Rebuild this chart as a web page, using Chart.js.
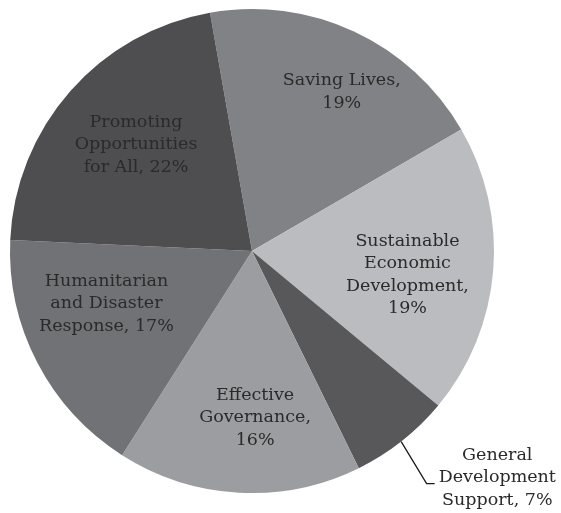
<!DOCTYPE html>
<html lang="en">
<head>
  <meta charset="UTF-8">
  <title>Funding by Objective</title>
  <script src="https://cdn.jsdelivr.net/npm/chart.js"></script>
  <style>
    html, body { margin: 0; padding: 0; background: #fff; }
    #wrap { width: 561px; height: 513px; }
  </style>
</head>
<body>
  <div id="wrap"><canvas id="pie"></canvas></div>

  <script>
    // data, clockwise from the top (slice sizes, labels show rounded %)
    const categories = ['Saving Lives', 'Sustainable Economic Development', 'General Development Support',
      'Effective Governance', 'Humanitarian and Disaster Response', 'Promoting Opportunities for All'];
    const shares = [19.4, 19.4, 6.7, 16.3, 16.7, 21.5];
    const nameLines = [
      ['Saving Lives'],
      ['Sustainable', 'Economic', 'Development'],
      ['General', 'Development', 'Support'],
      ['Effective', 'Governance'],
      ['Humanitarian', 'and Disaster', 'Response'],
      ['Promoting', 'Opportunities', 'for All']
    ];
    const pctOnOwnLine = [true, true, false, true, false, false];
    const sliceColors = ['#818286', '#bbbcbf', '#58585b', '#9c9da0', '#717275', '#4e4e51'];

    // where each label sits: shift from slice mid-angle (deg) and fraction of radius
    const labelPlace = [
      { shift: 4.5, f: 0.755 },
      { shift: 4.0, f: 0.65 },
      { shift: -9.0, f: 1.38, leader: true },
      { shift: -4.2, f: 0.69 },
      { shift: 7.5, f: 0.64 },
      { shift: 1.2, f: 0.65 }
    ];

    const textLines = shares.map((v, i) => {
      const pct = Math.round(v) + '%';
      const lines = nameLines[i].slice();
      if (pctOnOwnLine[i]) {
        lines[lines.length - 1] += ',';
        lines.push(pct);
      } else {
        lines[lines.length - 1] += ', ' + pct;
      }
      return lines;
    });

    const sliceLabels = {
      id: 'sliceLabels',
      afterDatasetsDraw(chart) {
        const ctx = chart.ctx;
        const arcs = chart.getDatasetMeta(0).data;
        const lh = 22.5;
        const rad = Math.PI / 180;
        ctx.save();
        ctx.font = '17.5px "DejaVu Serif", serif';
        ctx.fillStyle = '#2a2a2a';
        ctx.textAlign = 'center';
        ctx.textBaseline = 'middle';
        arcs.forEach((arc, i) => {
          const { x, y, startAngle, endAngle, outerRadius } = arc.getProps(['x', 'y', 'startAngle', 'endAngle', 'outerRadius'], true);
          const mid = (startAngle + endAngle) / 2;
          const p = labelPlace[i];
          const a = mid + p.shift * rad;
          const cx = x + Math.cos(a) * outerRadius * p.f;
          const cy = y + Math.sin(a) * outerRadius * p.f;
          const lines = textLines[i];
          const top = cy - (lines.length - 1) * lh / 2;
          lines.forEach((t, k) => ctx.fillText(t, cx, top + k * lh));

          if (p.leader) {
            const maxW = Math.max(...lines.map(t => ctx.measureText(t).width));
            const a0 = mid + 0.2 * rad;
            const a1 = mid + 1.3 * rad;
            const ex = x + Math.cos(a1) * outerRadius * 1.2;
            const ey = top + lh + 6;
            ctx.beginPath();
            ctx.strokeStyle = '#1a1a1a';
            ctx.lineWidth = 1.3;
            ctx.moveTo(x + Math.cos(a0) * outerRadius, y + Math.sin(a0) * outerRadius);
            ctx.lineTo(ex, ey);
            ctx.lineTo(cx - maxW / 2 - 4, ey);
            ctx.stroke();
          }
        });
        ctx.restore();
      }
    };

    new Chart(document.getElementById('pie'), {
      type: 'pie',
      data: {
        labels: categories,
        datasets: [{
          data: shares,
          backgroundColor: sliceColors,
          borderWidth: 0
        }]
      },
      options: {
        responsive: true,
        maintainAspectRatio: false,
        animation: false,
        rotation: -10,
        layout: { padding: { top: 9, bottom: 20, left: 10, right: 67 } },
        plugins: {
          legend: { display: false },
          tooltip: { enabled: false }
        }
      },
      plugins: [sliceLabels]
    });
  </script>
</body>
</html>
